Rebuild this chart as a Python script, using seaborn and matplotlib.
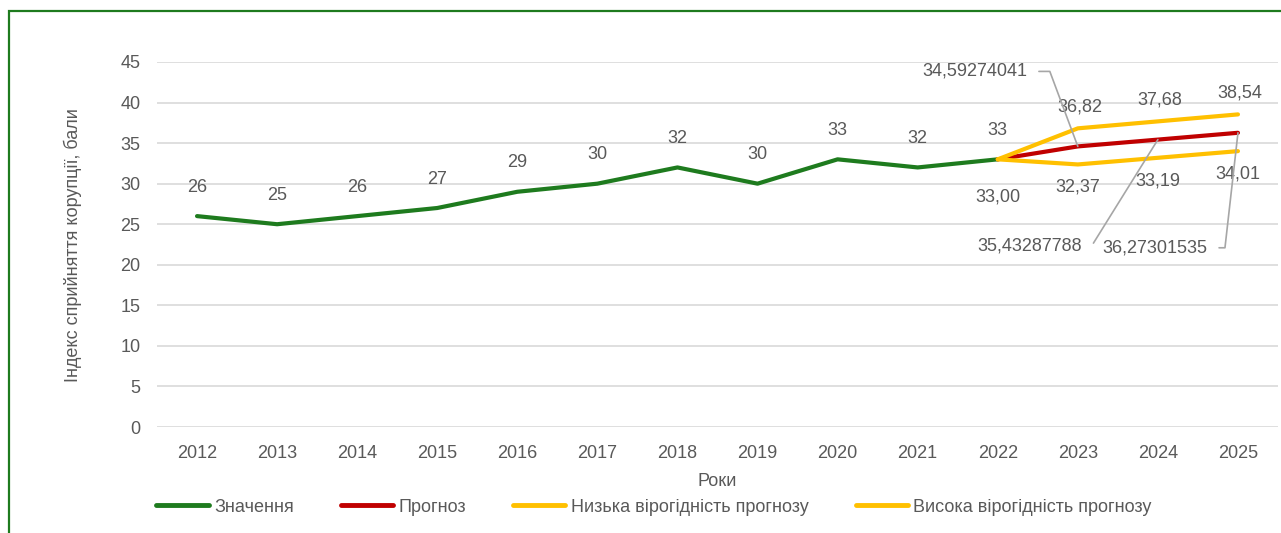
import matplotlib
matplotlib.use("Agg")
import math
import matplotlib.pyplot as plt
from matplotlib.lines import Line2D
from matplotlib.patches import Rectangle
import seaborn as sns
import pandas as pd

# ---- data ----
actual_years = [2012, 2013, 2014, 2015, 2016, 2017, 2018, 2019, 2020, 2021, 2022]
actual_values = [26, 25, 26, 27, 29, 30, 32, 30, 33, 32, 33]
forecast_years = [2022, 2023, 2024, 2025]
forecast_values = [33.0, 34.59274041, 35.43287788, 36.27301535]
low_values = [33.0, 32.37, 33.19, 34.01]
high_values = [33.0, 36.82, 37.68, 38.54]
series_names = ["Значення", "Прогноз", "Низька вірогідність прогнозу", "Висока вірогідність прогнозу"]
all_years = list(range(2012, 2026))
y_ticks = list(range(0, 46, 5))
x_title = "Роки"
y_title = "Індекс сприйняття корупції, бали"

colors = {"Значення": "#1E7B1E", "Прогноз": "#C00000",
          "Низька вірогідність прогнозу": "#FFC000", "Висока вірогідність прогнозу": "#FFC000"}

rows = []
for yr, v in zip(actual_years, actual_values):
    rows.append((series_names[0], yr, v))
for name, vals in zip(series_names[1:], [forecast_values, low_values, high_values]):
    for yr, v in zip(forecast_years, vals):
        rows.append((name, yr, v))
df = pd.DataFrame(rows, columns=["series", "year", "value"])

sns.set_theme(style="white")
plt.rcParams["font.family"] = ["Liberation Sans", "DejaVu Sans"]
txt = "#595959"
fs = 13

W, H = 1281, 533
fig = plt.figure(figsize=(W / 100, H / 100), dpi=100)
fig.patch.set_facecolor("white")
ax = fig.add_axes([157 / W, 1 - 427 / H, (1278 - 157) / W, (427 - 62) / H])

sns.lineplot(data=df, x="year", y="value", hue="series", hue_order=series_names,
             palette=colors, linewidth=3, estimator=None, sort=False,
             legend=False, ax=ax)

ax.set_xlim(2011.5, 2025.5)
ax.set_ylim(0, 45)
ax.set_xticks(all_years)
ax.set_xticklabels([str(y) for y in all_years])
ax.set_yticks(y_ticks)
ax.set_yticklabels([str(t) for t in y_ticks])
ax.yaxis.grid(True, color="#D9D9D9", linewidth=1.2)
ax.xaxis.grid(False)
ax.set_axisbelow(True)
for s in ax.spines.values():
    s.set_visible(False)
ax.tick_params(axis="both", length=0, labelsize=fs, colors=txt)
ax.tick_params(axis="y", pad=12)
ax.tick_params(axis="x", pad=13)
ax.set_xlabel("")
ax.set_ylabel("")

def fmt(v, d):
    return f"{v:.{d}f}".replace(".", ",")

# actual value labels
for yr, v in zip(actual_years, actual_values):
    ax.annotate(str(v), (yr, v), xytext=(0, 29), textcoords="offset pixels",
                ha="center", va="center", fontsize=fs, color=txt)
# low labels
for i, (yr, v) in enumerate(zip(forecast_years, low_values)):
    off = -38 if i == 0 else -23
    ax.annotate(fmt(v, 2), (yr, v), xytext=(0, off), textcoords="offset pixels",
                ha="center", va="center", fontsize=fs, color=txt)
# high labels
for yr, v in zip(forecast_years[1:], high_values[1:]):
    ax.annotate(fmt(v, 2), (yr, v), xytext=(2, 21), textcoords="offset pixels",
                ha="center", va="center", fontsize=fs, color=txt)
# forecast labels with leader lines (label offset, leader bend offset; pixels, y up)
leader_offsets = [(-103, 75), (-128, -106), (-83, -115)]
bend_offsets = [(-28, 75), (-66, -106), (-13, -115)]
for (yr, v), off, bend in zip(zip(forecast_years[1:], forecast_values[1:]),
                              leader_offsets, bend_offsets):
    angB = math.degrees(math.atan2(bend[1], bend[0]))
    ax.annotate(fmt(v, 8), (yr, v), xytext=off, textcoords="offset pixels",
                ha="center", va="center", fontsize=fs, color=txt,
                arrowprops=dict(arrowstyle="-", color="#A6A6A6", lw=1.2,
                                relpos=(1, 0.5), shrinkA=6, shrinkB=0,
                                connectionstyle=f"angle,angleA=0,angleB={angB},rad=0"))

fig.text(717 / W, 1 - 481 / H, x_title, ha="center", va="center", fontsize=fs, color=txt)
fig.text(73 / W, 1 - 245 / H, y_title, ha="center", va="center", rotation=90,
         fontsize=fs, color=txt)

handles = [Line2D([], [], color=colors[n], linewidth=3.5) for n in series_names]
fig.legend(handles, series_names, loc="center", bbox_to_anchor=(654 / W, 1 - 507 / H),
           ncol=4, frameon=False, fontsize=fs, handlelength=2.9, handletextpad=0.3,
           columnspacing=2.6, labelcolor=txt)

fig.patches.append(Rectangle((9 / W, -0.2), 1.5, 1.2 - 11 / H, transform=fig.transFigure,
                             fill=False, edgecolor="#1E7B1E", linewidth=1.6, zorder=0))

fig.savefig("out.png", dpi=100)
